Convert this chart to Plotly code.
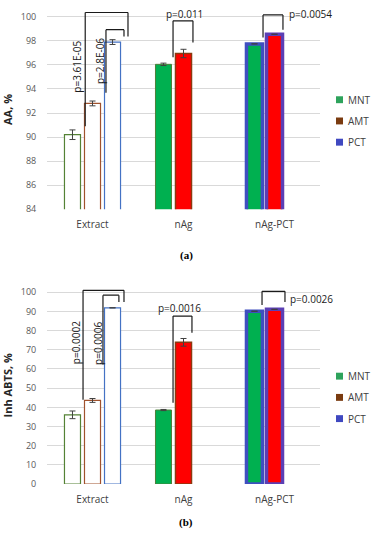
import plotly.graph_objects as go

# ---------------- data ----------------
categories = ["Extract", "nAg", "nAg-PCT"]
series = ["MNT", "AMT", "PCT"]

aa_mnt = [90.2, 96.05, 97.75]
aa_amt = [92.8, 96.95, 98.55]
aa_pct = [97.9, None, None]
aa_mnt_err = [0.4, 0.1, 0.0]
aa_amt_err = [0.2, 0.35, 0.0]
aa_pct_err = [0.2, 0.0, 0.0]

abts_mnt = [36.1, 38.6, 90.1]
abts_amt = [43.6, 73.9, 91.1]
abts_pct = [91.9, None, None]
abts_mnt_err = [2.0, 0.3, 0.0]
abts_amt_err = [1.0, 2.0, 0.0]
abts_pct_err = [0.0, 0.0, 0.0]

aa_ticks = [84, 86, 88, 90, 92, 94, 96, 98, 100]
abts_ticks = [0, 10, 20, 30, 40, 50, 60, 70, 80, 90, 100]

# p-value labels
aa_p = ["p=3.61E-05", "p=2.8E-06", "p=0.011", "p=0.0054"]
abts_p = ["p=0.0002", "p=0.0006", "p=0.0016", "p=0.0026"]

# ---------------- styles ----------------
fill = {
    "MNT": ["white", "#00B050", "#00B050"],
    "AMT": ["white", "#FF0000", "#FF0000"],
    "PCT": ["white", "white", "white"],
}
edge = {
    "MNT": ["#548235", "#4E7F3A", "#3F4FC0"],
    "AMT": ["#A0522D", "#8B3A0F", "#5B3FB5"],
    "PCT": ["#4472C4", "#4472C4", "#4472C4"],
}
edge_w = {
    "MNT": [1.2, 1, 3.5],
    "AMT": [1.2, 1.5, 3.5],
    "PCT": [1.2, 1, 3.5],
}
legend_colors = {"MNT": "#2EA35C", "AMT": "#7A3B10", "PCT": "#3F48C0"}
FONT = "Open Sans"
x_idx = list(range(len(categories)))

fig = go.Figure()


def add_panel(vals, errs, xa, ya):
    for s, v, e in zip(series, vals, errs):
        fig.add_trace(go.Bar(
            x=x_idx, y=v, name=s, xaxis=xa, yaxis=ya, showlegend=False,
            marker=dict(color=fill[s], line=dict(color=edge[s], width=edge_w[s])),
            error_y=dict(type="data", array=e, visible=True, color="#404040",
                         thickness=1, width=3),
        ))


add_panel([aa_mnt, aa_amt, aa_pct], [aa_mnt_err, aa_amt_err, aa_pct_err], "x", "y")
add_panel([abts_mnt, abts_amt, abts_pct], [abts_mnt_err, abts_amt_err, abts_pct_err], "x2", "y2")

axis_common = dict(
    tickfont=dict(family=FONT, size=9, color="#595959"),
    showline=False, zeroline=False,
)
xcommon = dict(
    axis_common, range=[-0.5, 2.5], tickvals=x_idx, ticktext=categories,
    showgrid=False, tickfont=dict(family=FONT, size=10, color="#404040"),
    ticks="outside", ticklen=6, tickcolor="rgba(0,0,0,0)",
)
ycommon = dict(
    axis_common, showgrid=True, gridcolor="#D9D9D9", gridwidth=1,
    ticks="outside", ticklen=8, tickcolor="rgba(0,0,0,0)",
)

fig.update_layout(
    width=378, height=550,
    margin=dict(l=0, r=0, t=0, b=0),
    plot_bgcolor="white", paper_bgcolor="white",
    barmode="group", bargap=0.34, bargroupgap=0.2,
    showlegend=False,
    xaxis=dict(xcommon, domain=[47 / 378, 320 / 378], anchor="y"),
    yaxis=dict(ycommon, domain=[1 - 211 / 550, 1 - 8.7 / 550], anchor="x",
               range=[84, 100.6], tickvals=aa_ticks,
               title=dict(text="<b>AA, %</b>", font=dict(family=FONT, size=11, color="#262626"),
                          standoff=6)),
    xaxis2=dict(xcommon, domain=[47 / 378, 320 / 378], anchor="y2"),
    yaxis2=dict(ycommon, domain=[1 - 489.3 / 550, 1 - 289.2 / 550], anchor="x2",
                range=[0, 103], tickvals=abts_ticks,
                title=dict(text="<b>Inh ABTS, %</b>", font=dict(family=FONT, size=11, color="#262626"),
                           standoff=6)),
)

shapes = []
annos = []


def bracket(xa, ya, xl, xr, ytop, yl, yr):
    for (x0, y0, x1, y1) in [(xl, yl, xl, ytop), (xl, ytop, xr, ytop), (xr, ytop, xr, yr)]:
        shapes.append(dict(type="line", xref=xa, yref=ya, x0=x0, y0=y0, x1=x1, y1=y1,
                           line=dict(color="#1A1A1A", width=1.2)))


def ptext(xa, ya, x, y, text, angle=0):
    annos.append(dict(xref=xa, yref=ya, x=x, y=y, text=text, showarrow=False,
                      textangle=angle, font=dict(family=FONT, size=10, color="#1A1A1A")))


# panel (a)
bracket("x", "y", -0.08, 0.39, 100.36, 90.9, 98.36)
bracket("x", "y", 0.148, 0.346, 98.93, 93.68, 98.36)
bracket("x", "y", 0.885, 1.104, 99.67, 96.64, 97.87)
bracket("x", "y", 1.874, 2.093, 100.16, 98.28, 98.93)
ptext("x", "y", -0.165, 95.9, aa_p[0], -90)
ptext("x", "y", 0.09, 96.3, aa_p[1], -90)
ptext("x", "y", 1.016, 100.25, aa_p[2])
ptext("x", "y", 2.40, 100.25, aa_p[3])

# panel (b)
bracket("x2", "y2", -0.104, 0.346, 101.0, 43.9, 94.96)
bracket("x2", "y2", 0.115, 0.29, 98.5, 62.4, 94.96)
bracket("x2", "y2", 0.885, 1.093, 87.6, 42.4, 78.9)
bracket("x2", "y2", 1.863, 2.115, 100.5, 93.3, 94.96)
ptext("x2", "y2", -0.185, 73.8, abts_p[0], -90)
ptext("x2", "y2", 0.065, 73.3, abts_p[1], -90)
ptext("x2", "y2", 0.96, 91.6, abts_p[2])
ptext("x2", "y2", 2.41, 96.6, abts_p[3])

# manual legends
for top in (100, 380):
    for i, s in enumerate(series):
        yc = top + i * 21.5
        shapes.append(dict(type="rect", xref="paper", yref="paper",
                           x0=336 / 378, x1=343 / 378,
                           y0=1 - (yc + 3.5) / 550, y1=1 - (yc - 3.5) / 550,
                           fillcolor=legend_colors[s], line=dict(width=0)))
        annos.append(dict(xref="paper", yref="paper", x=346 / 378, y=1 - yc / 550,
                          xanchor="left", yanchor="middle", text=s, showarrow=False,
                          font=dict(family=FONT, size=10, color="#404040")))

# panel letters
annos.append(dict(xref="paper", yref="paper", x=186 / 378, y=1 - 258 / 550, text="<b>(a)</b>",
                  showarrow=False, font=dict(family="Liberation Serif", size=11, color="#000")))
annos.append(dict(xref="paper", yref="paper", x=186 / 378, y=1 - 537 / 550, text="<b>(b)</b>",
                  showarrow=False, font=dict(family="Liberation Serif", size=11, color="#000")))

fig.update_layout(shapes=shapes, annotations=annos)
fig.write_html("out.html", config={"displayModeBar": False},
               post_script="document.body.style.margin='0';document.body.style.overflow='hidden';")
